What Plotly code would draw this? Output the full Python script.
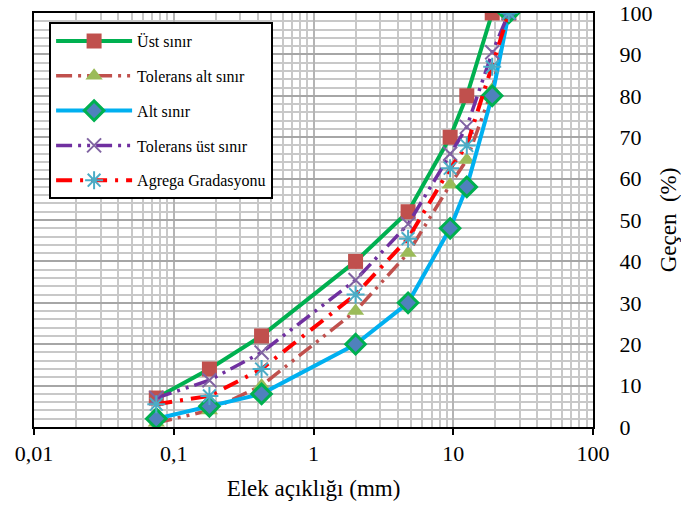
import plotly.graph_objects as go

sieve_mm = [0.075, 0.18, 0.425, 2, 4.75, 9.5, 12.5, 19, 25]
ust_sinir = [7, 14, 22, 40, 52, 70, 80, 100, 100]
tol_alt = [1, 4, 10, 28, 42, 58.5, 64.5, 81.5, 100]
alt_sinir = [2, 5, 8, 20, 30, 48, 58, 80, 100]
tol_ust = [7, 11.3, 18, 35.5, 49, 66, 72.5, 90.5, 100]
agrega = [5.5, 7.5, 14, 32, 45.5, 62.5, 68, 87, 100]

x_tickvals = [0.01, 0.1, 1, 10, 100]
x_ticktext = ["0,01", "0,1", "1", "10", "100"]
y_tickvals = [0, 10, 20, 30, 40, 50, 60, 70, 80, 90, 100]

minor_x = [m * 10 ** e for e in range(-2, 2) for m in range(2, 10)]

FONT = "Liberation Serif"
ddd = "16px,6px,3px,6px,3px,6px"

fig = go.Figure()
fig.add_trace(go.Scatter(
    x=sieve_mm, y=ust_sinir, name="Üst sınır", mode="lines+markers",
    line=dict(color="#00B050", width=4),
    marker=dict(symbol="square", size=15, color="#C0504D"),
    legendgroup="a"))
fig.add_trace(go.Scatter(
    x=sieve_mm, y=tol_alt, name="Tolerans alt sınır", mode="lines+markers",
    line=dict(color="#C0504D", width=3.5, dash=ddd),
    marker=dict(symbol="triangle-up", size=15, color="#9BBB59"),
    legendgroup="b"))
fig.add_trace(go.Scatter(
    x=sieve_mm, y=alt_sinir, name="Alt sınır", mode="lines+markers",
    line=dict(color="#00B0F0", width=4),
    marker=dict(symbol="diamond", size=15, color="#4F81BD",
                line=dict(color="#00B050", width=3)),
    legendgroup="c"))
fig.add_trace(go.Scatter(
    x=sieve_mm, y=tol_ust, name="Tolerans üst sınır", mode="lines+markers",
    line=dict(color="#7030A0", width=3.5, dash=ddd),
    marker=dict(symbol="x-thin-open", size=14, color="#8064A2",
                line=dict(color="#8064A2", width=2)),
    legendgroup="d"))
fig.add_trace(go.Scatter(
    x=sieve_mm, y=agrega, name="Agrega Gradasyonu", mode="lines+markers",
    line=dict(color="#FF0000", width=4, dash="16px,8px,3px,8px"),
    marker=dict(symbol="asterisk-open", size=15, color="#4BACC6",
                line=dict(color="#4BACC6", width=2)),
    legendgroup="e"))

fig.update_layout(
    width=681, height=506,
    margin=dict(l=34, r=88, t=13, b=79, autoexpand=False),
    paper_bgcolor="white", plot_bgcolor="white",
    font=dict(family=FONT, color="black"),
    showlegend=True,
    legend=dict(
        x=0.027, y=0.978, xanchor="left", yanchor="top",
        bgcolor="white", bordercolor="black", borderwidth=2,
        font=dict(family=FONT, size=16, color="black"),
        itemwidth=76, tracegroupgap=11, traceorder="grouped"),
)
fig.update_xaxes(
    type="log", range=[-2, 2], automargin=False,
    tickvals=x_tickvals, ticktext=x_ticktext,
    tickfont=dict(family=FONT, size=22),
    ticks="outside", ticklen=6, tickwidth=2, tickcolor="black",
    showgrid=True, gridcolor="#B4B4B4", gridwidth=2,
    minor=dict(tickvals=minor_x, showgrid=True, gridcolor="#C8C8C8", gridwidth=2, ticks=""),
    showline=True, linecolor="black", linewidth=2, mirror=True,
    title=dict(text="Elek açıklığı (mm)", font=dict(family=FONT, size=23), standoff=14),
    zeroline=False,
)
fig.update_yaxes(
    range=[0, 100], side="right", automargin=False,
    tickvals=y_tickvals,
    tickfont=dict(family=FONT, size=22),
    ticks="", ticklabelstandoff=20,
    showgrid=True, gridcolor="#A6A6A6", gridwidth=2,
    minor=dict(dtick=2, showgrid=True, gridcolor="#C8C8C8", gridwidth=2, ticks=""),
    showline=True, linecolor="black", linewidth=2, mirror=True,
    title=dict(text="Geçen  (%)", font=dict(family=FONT, size=23), standoff=14),
    zeroline=False,
)

fig.write_html("out.html")
